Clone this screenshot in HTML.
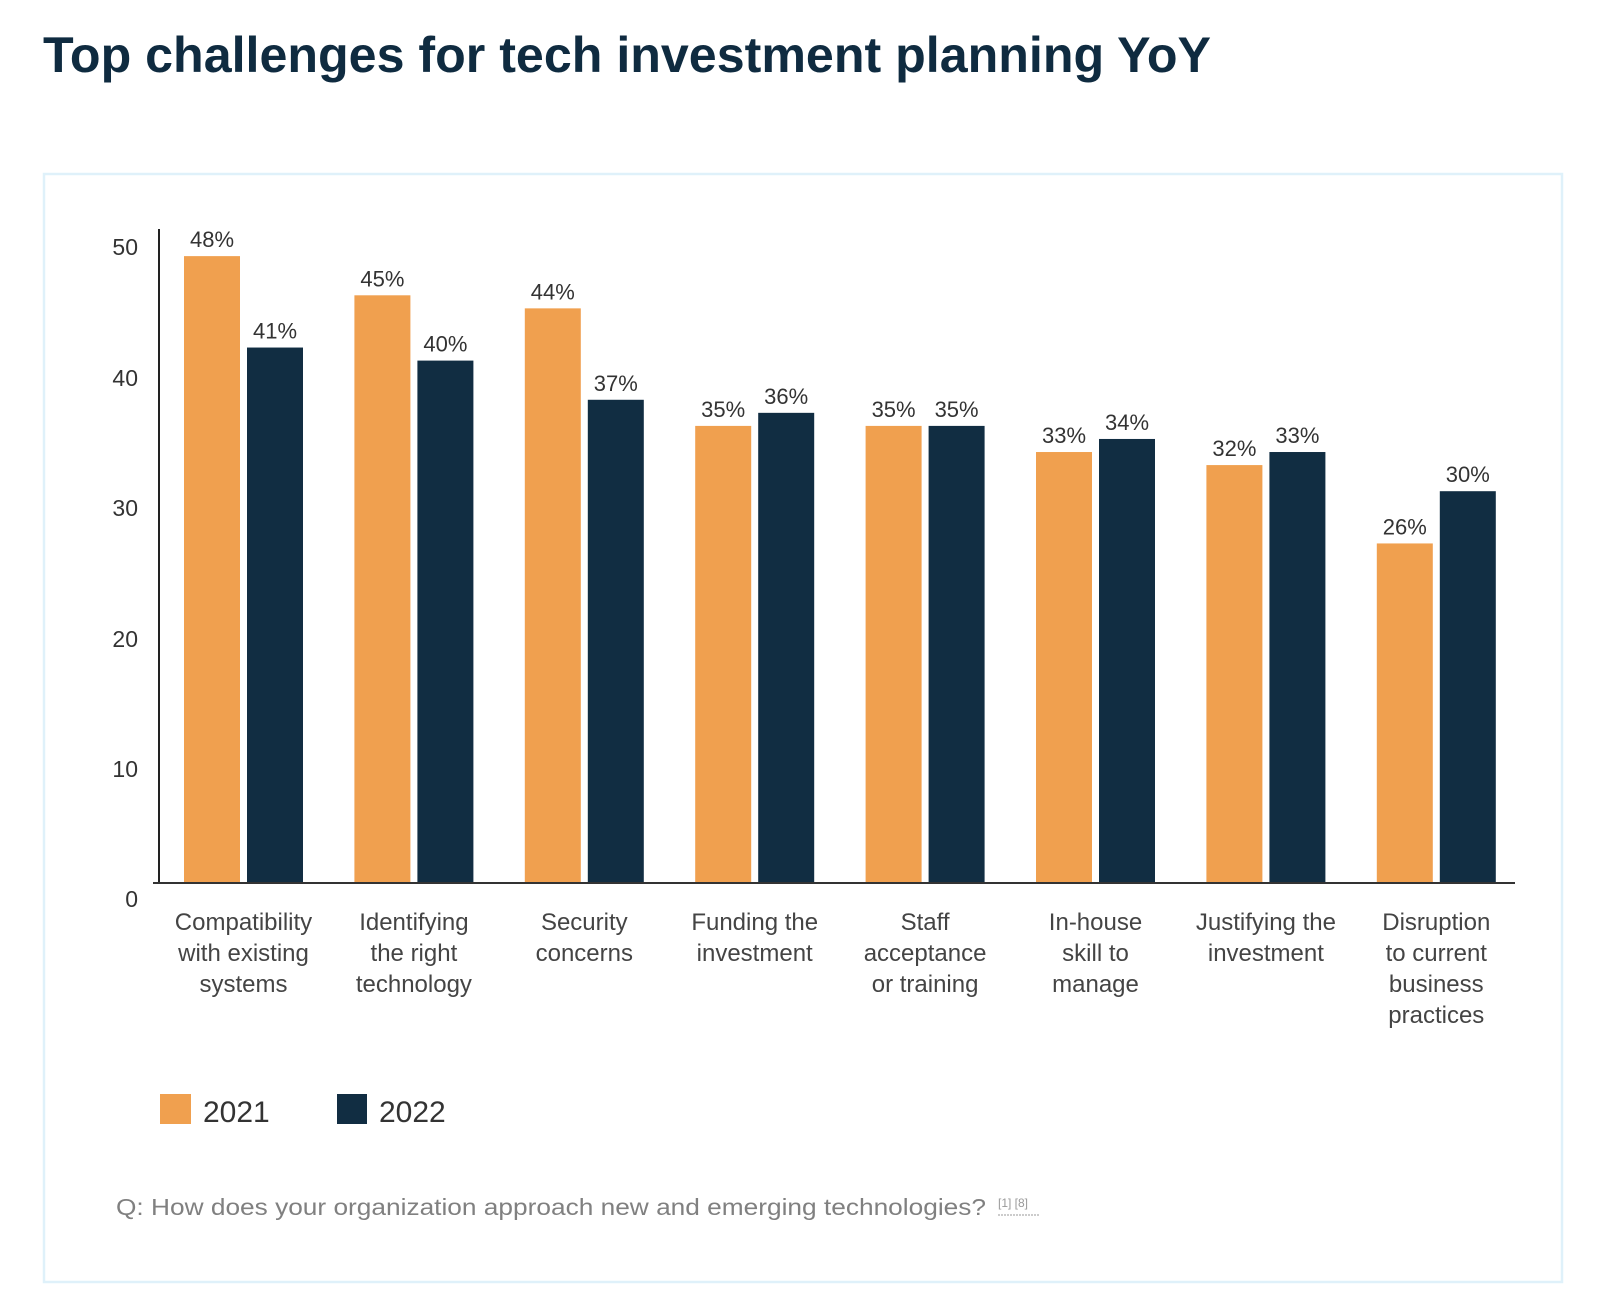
<!DOCTYPE html>
<html><head><meta charset="utf-8"><style>
html,body{margin:0;padding:0;background:#fff;}
svg{display:block;font-family:"Liberation Sans",sans-serif;}
</style></head><body>
<svg width="1600" height="1303" viewBox="0 0 1600 1303" xmlns="http://www.w3.org/2000/svg">
<text x="43" y="72" font-size="50" font-weight="bold" fill="#0f2b40" textLength="1168" lengthAdjust="spacingAndGlyphs">Top challenges for tech investment planning YoY</text>
<rect x="44" y="174" width="1518" height="1108" fill="none" stroke="#dff1fa" stroke-width="2.5"/>
<g font-size="23" fill="#333" text-anchor="end">
<text x="138" y="255">50</text><text x="138" y="386">40</text><text x="138" y="516">30</text><text x="138" y="647">20</text><text x="138" y="777">10</text><text x="138" y="907">0</text>
</g>
<g id="bars"></g>
<line x1="159" y1="229" x2="159" y2="884" stroke="#222" stroke-width="2"/>
<line x1="153" y1="883" x2="1515" y2="883" stroke="#333" stroke-width="2"/>
<g font-size="22" fill="#333" text-anchor="middle" id="vals"></g>
<g font-size="24" fill="#444" text-anchor="middle" id="cats"></g>
<rect x="160" y="1094" width="31" height="30" fill="#f0a04f"/>
<text x="203" y="1122" font-size="30" fill="#333">2021</text>
<rect x="337" y="1094" width="30" height="30" fill="#112d42"/>
<text x="379" y="1122" font-size="30" fill="#333">2022</text>
<text x="116" y="1215" font-size="23" fill="#808080" textLength="870" lengthAdjust="spacingAndGlyphs">Q: How does your organization approach new and emerging technologies?</text>
<text x="998" y="1207" font-size="12" fill="#999">[1] [8]</text>
<line x1="998" y1="1215" x2="1040" y2="1215" stroke="#999" stroke-width="1" stroke-dasharray="2,1"/>
<script>
var d=[[48,41],[45,40],[44,37],[35,36],[35,35],[33,34],[32,33],[26,30]];
var c=[["Compatibility","with existing","systems"],["Identifying","the right","technology"],["Security","concerns"],["Funding the","investment"],["Staff","acceptance","or training"],["In-house","skill to","manage"],["Justifying the","investment"],["Disruption","to current","business","practices"]];
var ns="http://www.w3.org/2000/svg",b=document.getElementById("bars"),v=document.getElementById("vals"),ct=document.getElementById("cats");
function el(p,t,a,tx){var e=document.createElementNS(ns,t);for(var k in a)e.setAttribute(k,a[k]);if(tx)e.textContent=tx;p.appendChild(e);}
for(var i=0;i<8;i++){var x=184+i*170.4;
[0,1].forEach(function(j){var val=d[i][j],top=883-val*13.06,bx=x+j*63;
el(b,"rect",{x:bx,y:top,width:56,height:883-top,fill:j?"#112d42":"#f0a04f"});
el(v,"text",{x:bx+28,y:top-9},val+"%");});
c[i].forEach(function(s,k){el(ct,"text",{x:x+59.5,y:930+k*31},s);});}
</script>
</svg>
</body></html>
